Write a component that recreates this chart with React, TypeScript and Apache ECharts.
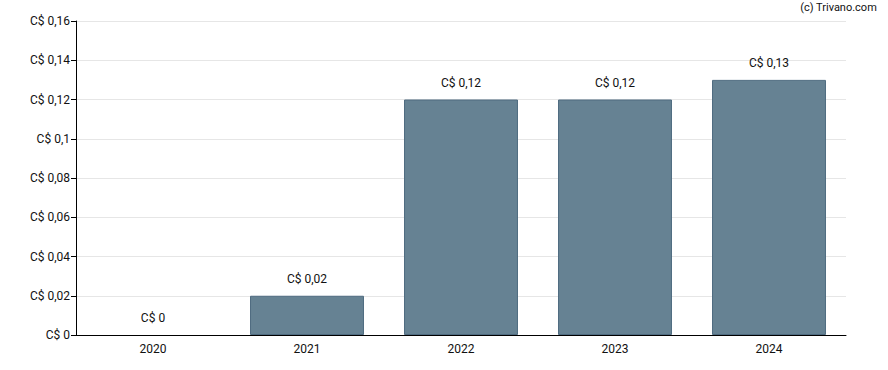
import React, { useEffect, useRef } from "react";
import * as echarts from "echarts";

const categories = ["2020", "2021", "2022", "2023", "2024"];
const values = [0, 0.02, 0.12, 0.12, 0.13];
const yMin = 0;
const yMax = 0.16;
const yInterval = 0.02;

const fmt = (v: number) => "C$ " + String(parseFloat(v.toFixed(4))).replace(".", ",");

export default function App() {
  const ref = useRef<HTMLDivElement>(null);
  useEffect(() => {
    if (!ref.current) return;
    const chart = echarts.init(ref.current, undefined, { renderer: "svg" });
    chart.setOption({
      animation: false,
      textStyle: { fontFamily: "Roboto" },
      graphic: [
        {
          type: "text",
          right: 11,
          top: 2,
          style: { text: "(c) Trivano.com", fontFamily: "Roboto", fontSize: 11, fill: "#111" },
        },
      ],
      grid: { left: 76, right: 42, top: 21, bottom: 35 },
      xAxis: {
        type: "category",
        data: categories,
        axisLine: { lineStyle: { color: "#000", width: 1 } },
        axisTick: { alignWithLabel: true, length: 5, lineStyle: { color: "#000" } },
        axisLabel: { color: "#111", fontSize: 12, margin: 8, fontFamily: "Roboto" },
      },
      yAxis: {
        type: "value",
        min: yMin,
        max: yMax,
        interval: yInterval,
        axisLine: { show: true, lineStyle: { color: "#000", width: 1 } },
        axisTick: { show: true, length: 5, lineStyle: { color: "#000" } },
        axisLabel: { color: "#111", fontSize: 12, margin: 6, fontFamily: "Roboto", formatter: fmt },
        splitLine: { lineStyle: { color: "#e6e6e6", width: 1 } },
      },
      series: [
        {
          type: "bar",
          data: values.map((v) => ({
            value: v,
            itemStyle: v === 0 ? { borderWidth: 0, color: "rgba(0,0,0,0)" } : undefined,
          })),
          barCategoryGap: "26%",
          itemStyle: { color: "#668293", borderColor: "#4f6b80", borderWidth: 1 },
          label: {
            show: true,
            position: "top",
            distance: 11,
            color: "#111",
            fontSize: 12,
            fontFamily: "Roboto",
            formatter: (p: any) => fmt(p.value),
          },
        },
      ],
    });
    return () => chart.dispose();
  }, []);
  return (
    <div
      ref={ref}
      style={{ position: "fixed", left: 0, top: 0, width: 888, height: 370, background: "#fff" }}
    />
  );
}
